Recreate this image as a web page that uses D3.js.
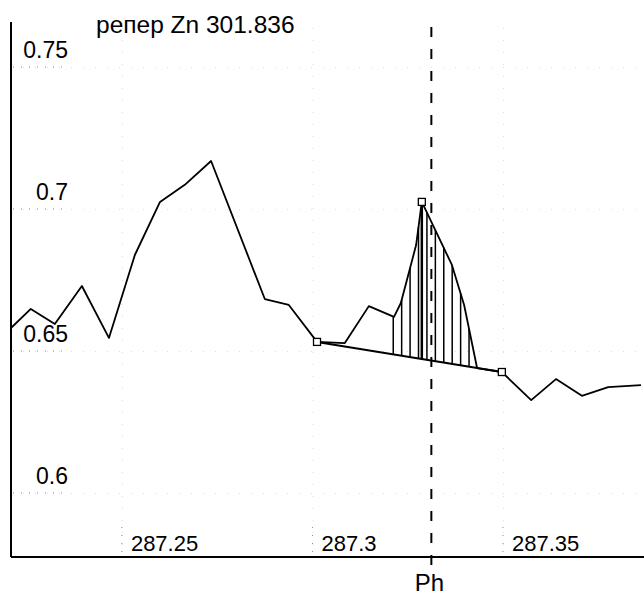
<!DOCTYPE html>
<html>
<head>
<meta charset="utf-8">
<script src="https://cdn.jsdelivr.net/npm/d3@7"></script>
<style>
    body { margin: 0; background: #fff; }
    text { font-family: "Liberation Sans", Arial, sans-serif; fill: #000; }
</style>
</head>
<body>
<div id="chart_container"></div>
<script>
// wavelength / intensity
const waveX = [287.2209, 287.2261, 287.2324, 287.2395, 287.2466, 287.2534, 287.2600, 287.2665, 287.2734,
    287.2875, 287.2938, 287.3012, 287.3085, 287.3148, 287.3214, 287.3232, 287.3272, 287.3287,
    287.3366, 287.3398, 287.3432, 287.3497, 287.3574, 287.3639, 287.3707, 287.3776, 287.3862]
const intensity = [0.6581, 0.6648, 0.6595, 0.6729, 0.6546, 0.6838, 0.7025, 0.7085, 0.7169,
    0.6683, 0.6662, 0.6532, 0.6528, 0.6658, 0.6620, 0.6669, 0.6873, 0.7025,
    0.6803, 0.6662, 0.6440, 0.6426, 0.6327, 0.6401, 0.6342, 0.6373, 0.6380]

const markerIdx = [11, 17, 21]          // left base, peak, right base
const phWave = 287.3312
const hatchFrom = 287.3212, hatchTo = 287.3433, hatchCount = 11

const yTicks = [0.6, 0.65, 0.7, 0.75]
const yTickLabels = ["0.6", "0.65", "0.7", "0.75"]
const xTicks = [287.25, 287.3, 287.35]
const xTickLabels = ["287.25", "287.3", "287.35"]
const title = "репер Zn 301.836"
const phLabel = "Ph"

let width = 644, height = 595;
let plotL = 11, plotR = 644, plotT = 22, plotB = 557;

let x = d3.scaleLinear().domain([287.2209, 287.3870]).range([plotL, plotR]);
let y = d3.scaleLinear().domain([0.57746, 0.76585]).range([plotB, plotT]);

let svg = d3.select("#chart_container").append("svg").attr("width", width).attr("height", height);

// faint dotted grid (mostly lost in the scan)
svg.append("g").attr("transform", `translate(${plotL},0)`)
    .call(d3.axisLeft(y).tickValues(yTicks).tickSize(-(plotR - plotL)).tickFormat(""))
    .call(g => g.select(".domain").remove())
    .selectAll("line").attr("stroke", "#dddddd").attr("stroke-dasharray", "1,11");
svg.append("g").attr("transform", `translate(0,${plotB})`)
    .call(d3.axisBottom(x).tickValues(xTicks).tickSize(-(plotB - plotT)).tickFormat(""))
    .call(g => g.select(".domain").remove())
    .selectAll("line").attr("stroke", "#dddddd").attr("stroke-dasharray", "1,11");

// short dotted marks by labels
svg.append("g").selectAll("line").data(yTicks).join("line")
    .attr("x1", plotL + 2).attr("x2", 66).attr("y1", d => y(d)).attr("y2", d => y(d))
    .attr("stroke", "#888").attr("stroke-dasharray", "1,7");
svg.append("g").selectAll("line").data(xTicks).join("line")
    .attr("x1", d => x(d)).attr("x2", d => x(d)).attr("y1", plotB - 30).attr("y2", plotB)
    .attr("stroke", "#888").attr("stroke-dasharray", "1,7");

// tick labels
svg.append("g").selectAll("text").data(yTicks).join("text")
    .attr("x", 68).attr("y", d => y(d) - 9)
    .attr("text-anchor", "end").attr("font-size", "23px")
    .text((d, i) => yTickLabels[i]);
svg.append("g").selectAll("text").data(xTicks).join("text")
    .attr("x", d => x(d) + 9).attr("y", plotB - 6)
    .attr("font-size", "22px")
    .text((d, i) => xTickLabels[i]);

// title
svg.append("text").attr("x", 96).attr("y", 33).attr("font-size", "24.5px").text(title);

// axes frame
svg.append("line").attr("x1", plotL).attr("x2", plotL).attr("y1", plotT).attr("y2", plotB)
    .attr("stroke", "#000").attr("stroke-width", 2);
svg.append("line").attr("x1", plotL).attr("x2", plotR).attr("y1", plotB).attr("y2", plotB)
    .attr("stroke", "#000").attr("stroke-width", 2);

// hatch under the peak
let pts = waveX.map((d, i) => [d, intensity[i]]);
function lineAt(v) {
    let i = d3.bisector(d => d[0]).right(pts, v);
    i = Math.max(1, Math.min(pts.length - 1, i));
    let a = pts[i - 1], b = pts[i];
    return a[1] + (b[1] - a[1]) * (v - a[0]) / (b[0] - a[0]);
}
let b0 = pts[markerIdx[0]], b1 = pts[markerIdx[2]];
function baseAt(v) {
    return b0[1] + (b1[1] - b0[1]) * (v - b0[0]) / (b1[0] - b0[0]);
}
let hatchX = d3.range(hatchCount).map(k => hatchFrom + k * (hatchTo - hatchFrom) / (hatchCount - 1));
hatchX.push(pts[markerIdx[1]][0]);
svg.append("g").selectAll("line").data(hatchX).join("line")
    .attr("x1", d => x(d)).attr("x2", d => x(d))
    .attr("y1", d => y(lineAt(d))).attr("y2", d => y(baseAt(d)))
    .attr("stroke", "#000").attr("stroke-width", (d, i) => i == hatchCount ? 2.5 : 1.5);

// baseline between the two base markers
svg.append("line")
    .attr("x1", x(b0[0])).attr("y1", y(b0[1])).attr("x2", x(b1[0])).attr("y2", y(b1[1]))
    .attr("stroke", "#000").attr("stroke-width", 2);

// spectrum
let line = d3.line().x(d => x(d[0])).y(d => y(d[1]));
svg.append("path").datum(pts).attr("d", line)
    .attr("fill", "none").attr("stroke", "#000").attr("stroke-width", 1.8).attr("stroke-linejoin", "round");

// Ph dashed line
svg.append("line").attr("x1", x(phWave)).attr("x2", x(phWave)).attr("y1", plotT + 5).attr("y2", plotB + 10)
    .attr("stroke", "#000").attr("stroke-width", 2).attr("stroke-dasharray", "10,12");
svg.append("text").attr("x", x(phWave) - 2).attr("y", 591)
    .attr("text-anchor", "middle").attr("font-size", "24px").text(phLabel);

// markers
svg.append("g").selectAll("rect").data(markerIdx.map(i => pts[i])).join("rect")
    .attr("x", d => x(d[0]) - 3.5).attr("y", d => y(d[1]) - 3.5)
    .attr("width", 7).attr("height", 7)
    .attr("fill", "#fff").attr("stroke", "#000").attr("stroke-width", 1.3);
</script>
</body>
</html>
